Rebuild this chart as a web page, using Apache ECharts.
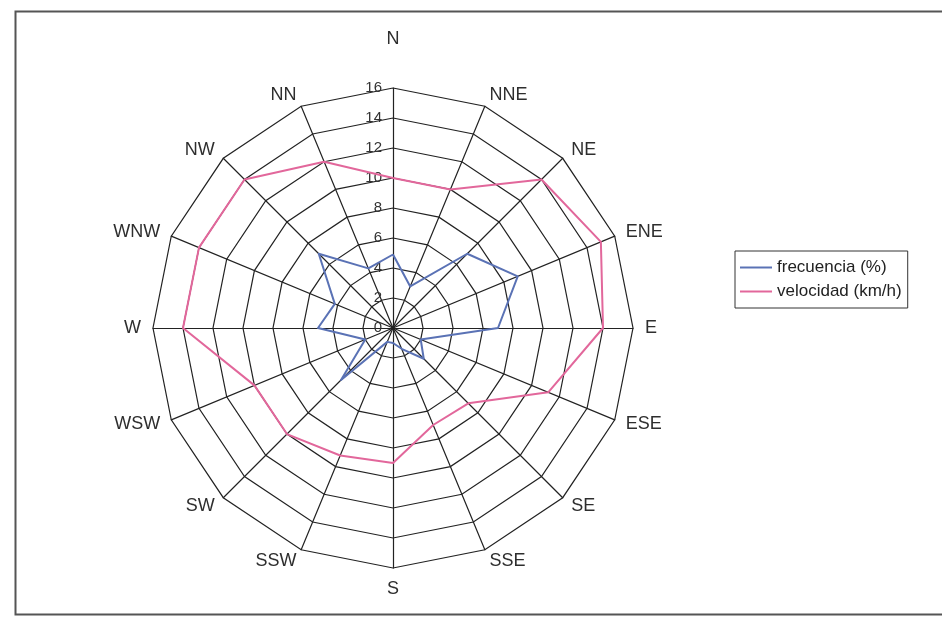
<!DOCTYPE html>
<html>
<head>
<meta charset="utf-8">
<script src="https://cdn.jsdelivr.net/npm/echarts@6/dist/echarts.min.js"></script>
<style>
  html, body { margin: 0; padding: 0; background: #fff; }
  #chart { width: 942px; height: 628px; }
</style>
</head>
<body>
<div id="chart"></div>
<script>
// Wind directions, clockwise from north
const directions = ['N', 'NNE', 'NE', 'ENE', 'E', 'ESE', 'SE', 'SSE',
                    'S', 'SSW', 'SW', 'WSW', 'W', 'WNW', 'NW', 'NN'];
// Frequency of each direction (%)
const frecuencia = [4.9, 3.0, 7.0, 9.0, 7.0, 2.0, 2.9, 1.5,
                    1.0, 1.0, 4.9, 2.0, 5.0, 4.2, 7.0, 4.3];
// Mean wind speed per direction (km/h)
const velocidad = [10, 10, 14, 15, 14, 11.2, 7.1, 7.0,
                   9.0, 9.2, 10, 10, 14, 14, 14, 12];
// Scale ticks shown along the north spoke
const scaleMin = 0, scaleMax = 16, scaleStep = 2;

const seriesNames = ['frecuencia (%)', 'velocidad (km/h)'];
const seriesColors = ['#5a72b5', '#e2679b'];

// ECharts lays radar spokes out counter-clockwise; flip to compass order.
const toRadarOrder = arr => [arr[0]].concat(arr.slice(1).reverse());

const indicators = toRadarOrder(directions).map(name => ({ name, min: scaleMin, max: scaleMax }));

const center = [393, 328];
const radius = 240;
const gridColor = '#222';

const chart = echarts.init(document.getElementById('chart'));
chart.setOption({
  backgroundColor: '#ffffff',
  animation: false,
  textStyle: { fontFamily: '"Liberation Sans", Arial, sans-serif' },
  graphic: [{
    type: 'rect',
    left: 13, top: 9,
    shape: { width: 940, height: 603 },
    style: { fill: 'none', stroke: '#555', lineWidth: 2 },
    silent: true
  }],
  legend: {
    orient: 'vertical',
    left: 735, top: 251,
    padding: [8, 6, 8, 5],
    itemGap: 7,
    itemWidth: 32, itemHeight: 2,
    icon: 'rect',
    borderColor: '#333', borderWidth: 1,
    data: seriesNames,
    textStyle: { fontSize: 17, color: '#222' }
  },
  radar: {
    center: center,
    radius: radius,
    startAngle: 90,
    shape: 'polygon',
    splitNumber: (scaleMax - scaleMin) / scaleStep,
    indicator: indicators,
    axisName: {
      color: '#2e2e2e',
      fontSize: 18,
      formatter: name => name === 'N' ? '{n|N}' : name,
      rich: { n: { fontSize: 18, color: '#2e2e2e', padding: [0, 0, 28, 0] } }
    },
    nameGap: 12,
    axisLine: { lineStyle: { color: gridColor, width: 1.2 } },
    splitLine: { lineStyle: { color: gridColor, width: 1.2 } },
    splitArea: { show: false },
    axisTick: { show: false },
    axisLabel: { show: false }
  },
  polar: { center: center, radius: radius },
  angleAxis: {
    startAngle: 90,
    show: false,
    min: 0, max: 360
  },
  radiusAxis: {
    min: scaleMin, max: scaleMax, interval: scaleStep,
    axisLine: { show: false },
    axisTick: { show: false },
    splitLine: { show: false },
    axisLabel: { show: true, fontSize: 15, color: '#333', margin: 11, showMinLabel: true, showMaxLabel: true }
  },
  series: [{
    type: 'radar',
    symbol: 'none',
    data: [
      { name: seriesNames[0], value: toRadarOrder(frecuencia),
        lineStyle: { color: seriesColors[0], width: 2 }, itemStyle: { color: seriesColors[0] } },
      { name: seriesNames[1], value: toRadarOrder(velocidad),
        lineStyle: { color: seriesColors[1], width: 2 }, itemStyle: { color: seriesColors[1] } }
    ]
  }]
});
</script>
</body>
</html>
